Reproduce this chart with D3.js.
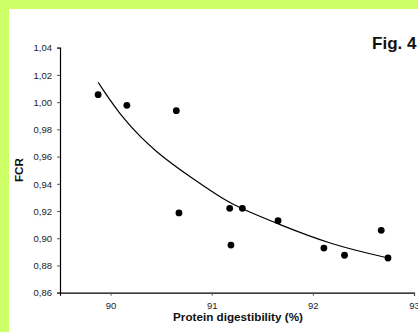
<!DOCTYPE html>
<html>
<head>
<meta charset="utf-8">
<script src="https://cdn.jsdelivr.net/npm/d3@7"></script>
<style>
    body { margin: 0; background: #ccff66; }
    .tick-label { font-family: Arial, "Liberation Sans", sans-serif; font-size: 9.5px; fill: #222; }
    .axis-title { font-family: Arial, "Liberation Sans", sans-serif; font-size: 11.7px; font-weight: bold; fill: #111; }
</style>
</head>
<body>
<script>
// FCR vs protein digestibility, Fig. 4
var digestibility = [89.877, 90.161, 90.650, 90.676, 91.178, 91.190, 91.303, 91.656, 92.109, 92.313, 92.676, 92.743];
var fcr = [1.0055, 0.9977, 0.9937, 0.9186, 0.9220, 0.8950, 0.9220, 0.9129, 0.8928, 0.8875, 0.9058, 0.8855];

// fitted curve
var fitX = [89.877, 90.125, 90.455, 90.818, 91.149, 91.303, 91.656, 92.171, 92.733];
var fitY = [1.0146, 0.9869, 0.9625, 0.9435, 0.9270, 0.9215, 0.9105, 0.8955, 0.8857];

var xTicks = [90, 91, 92, 93];
var yTicks = [0.86, 0.88, 0.90, 0.92, 0.94, 0.96, 0.98, 1.00, 1.02, 1.04];

var width = 418, height = 332;

var svg = d3.select("body").append("svg")
    .attr("width", width)
    .attr("height", height)
    .style("display", "block");

// white panel inside the lime border
svg.append("rect")
    .attr("x", 9)
    .attr("y", 9)
    .attr("width", width - 9)
    .attr("height", height - 9)
    .attr("fill", "#fff");

var x = d3.scaleLinear().domain([89.5, 93]).range([60, 414]);
var y = d3.scaleLinear().domain([0.86, 1.04]).range([292.7, 47.7]);

var fmt = function (d) { return d3.format(".2f")(d).replace(".", ","); };

// Axes
var yAxis = svg.append("g")
    .attr("transform", "translate(60,0)")
    .call(d3.axisLeft(y).tickValues(yTicks).tickSize(3).tickPadding(5).tickFormat(fmt));
var xAxis = svg.append("g")
    .attr("transform", "translate(0," + y(0.86) + ")")
    .call(d3.axisBottom(x).tickValues(xTicks).tickSize(3).tickPadding(7).tickFormat(d3.format("d")));

[yAxis, xAxis].forEach(function (a) {
    a.select(".domain").attr("stroke", "#000").attr("stroke-width", 1.2);
    a.selectAll(".tick line").attr("stroke", "#555");
    a.selectAll(".tick text").attr("class", "tick-label").attr("font-family", null).attr("font-size", null);
});
yAxis.selectAll(".tick text").attr("dy", "0.34em");

// Fitted curve
var line = d3.line()
    .x(function (d) { return x(d[0]); })
    .y(function (d) { return y(d[1]); })
    .curve(d3.curveBasis);

svg.append("path")
    .datum(d3.zip(fitX, fitY))
    .attr("d", line)
    .attr("fill", "none")
    .attr("stroke", "#000")
    .attr("stroke-width", 1.2);

// Points
svg.selectAll(".pt")
    .data(d3.zip(digestibility, fcr))
    .enter()
    .append("circle")
    .attr("class", "pt")
    .attr("cx", function (d) { return x(d[0]); })
    .attr("cy", function (d) { return y(d[1]); })
    .attr("r", 3.4)
    .attr("fill", "#000");

// Titles
svg.append("text")
    .attr("class", "axis-title")
    .attr("x", 238)
    .attr("y", 321)
    .attr("text-anchor", "middle")
    .text("Protein digestibility (%)");

svg.append("text")
    .attr("class", "axis-title")
    .attr("transform", "translate(22.5,170) rotate(-90)")
    .attr("text-anchor", "middle")
    .text("FCR");

svg.append("text")
    .attr("class", "axis-title")
    .attr("x", 416.5)
    .attr("y", 49)
    .attr("text-anchor", "end")
    .style("font-size", "17px")
    .text("Fig. 4");
</script>
</body>
</html>
